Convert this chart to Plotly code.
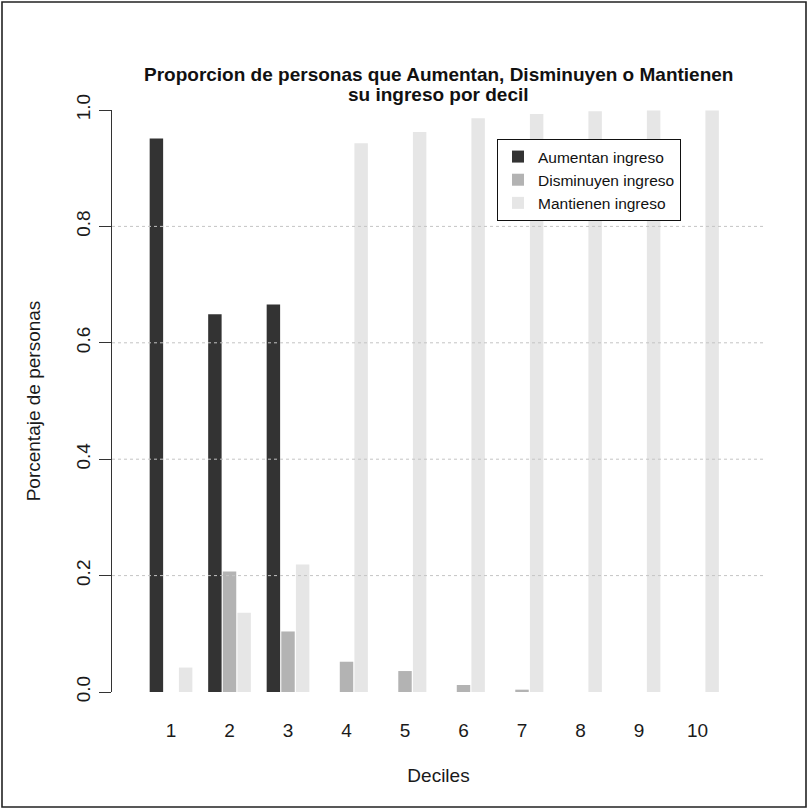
import plotly.graph_objects as go

# ---- data ----
deciles = ["1", "2", "3", "4", "5", "6", "7", "8", "9", "10"]
aumentan = [0.951, 0.649, 0.666, 0, 0, 0, 0, 0, 0, 0]
disminuyen = [0, 0.207, 0.104, 0.052, 0.036, 0.012, 0.004, 0, 0, 0]
mantienen = [0.042, 0.136, 0.219, 0.943, 0.962, 0.986, 0.993, 0.998, 0.999, 0.999]

series_names = ["Aumentan ingreso", "Disminuyen ingreso", "Mantienen ingreso"]
series_colors = ["#333333", "#b3b3b3", "#e6e6e6"]

y_tick_vals = [0.0, 0.2, 0.4, 0.6, 0.8, 1.0]
y_tick_text = ["0.0", "0.2", "0.4", "0.6", "0.8", "1.0"]
grid_levels = [0.2, 0.4, 0.6, 0.8]

title_line1 = "Proporcion de personas que Aumentan, Disminuyen o Mantienen"
title_line2 = "su ingreso por decil"

FONT = "Liberation Sans, Arial, sans-serif"

fig = go.Figure()
for name, vals, color in zip(series_names, [aumentan, disminuyen, mantienen], series_colors):
    fig.add_bar(x=deciles, y=vals, name=name,
                marker=dict(color=color, line=dict(width=0)))

# plot area in pixels
W, H = 808, 809
L, R, T, B = 112, 765, 110, 692
pw, ph = R - L, B - T

def px_x(p):
    return (p - L) / pw

def px_y(p):
    return (B - p) / ph

shapes = []
for v in grid_levels:
    shapes.append(dict(type="line", xref="paper", x0=0, x1=1, yref="y", y0=v, y1=v,
                       line=dict(color="#c4c4c4", width=1, dash="dot"), layer="above"))
# outer frame
shapes.append(dict(type="rect", xref="paper", yref="paper",
                   x0=px_x(2), x1=px_x(806), y0=px_y(807), y1=px_y(2),
                   line=dict(color="#222222", width=1.6), fillcolor="rgba(0,0,0,0)",
                   layer="above"))

annotations = [
    dict(text="<b>%s</b>" % title_line1, xref="paper", yref="paper",
         x=0.5, y=px_y(74), xanchor="center", yanchor="middle", showarrow=False,
         font=dict(family=FONT, size=19, color="#111111")),
    dict(text="<b>%s</b>" % title_line2, xref="paper", yref="paper",
         x=0.5, y=px_y(94), xanchor="center", yanchor="middle", showarrow=False,
         font=dict(family=FONT, size=19, color="#111111")),
]

fig.update_layout(
    width=W, height=H,
    margin=dict(l=L, r=W - R, t=T, b=H - B, pad=0),
    paper_bgcolor="white", plot_bgcolor="white",
    font=dict(family=FONT, color="#1a1a1a", size=19),
    barmode="group", bargap=0.25, bargroupgap=0.08,
    showlegend=True,
    legend=dict(x=px_x(497), y=px_y(139), xanchor="left", yanchor="top",
                bordercolor="#111111", borderwidth=1, bgcolor="white",
                font=dict(family=FONT, size=15.5, color="#111111"),
                traceorder="normal"),
    shapes=shapes,
    annotations=annotations,
)

fig.update_xaxes(type="category", range=[-1.009, 10.154],
                 showline=False, showgrid=False, zeroline=False,
                 ticks="", ticklabelstandoff=25,
                 tickfont=dict(family=FONT, size=19, color="#1a1a1a"),
                 title=dict(text="Deciles", standoff=28,
                            font=dict(family=FONT, size=19, color="#1a1a1a")))

fig.update_yaxes(range=[0, 1], tickvals=y_tick_vals, ticktext=y_tick_text,
                 tickangle=-90, showline=True, linecolor="#333333", linewidth=1,
                 ticks="outside", ticklen=12, tickcolor="#333333", tickwidth=1,
                 ticklabelstandoff=1,
                 showgrid=False, zeroline=False,
                 tickfont=dict(family=FONT, size=19, color="#1a1a1a"),
                 title=dict(text="Porcentaje de personas", standoff=27,
                            font=dict(family=FONT, size=19, color="#1a1a1a")))

fig.write_html("out.html",
               config={"displayModeBar": False},
               post_script="document.body.style.margin='0px';"
                           "document.body.style.overflow='hidden';")
